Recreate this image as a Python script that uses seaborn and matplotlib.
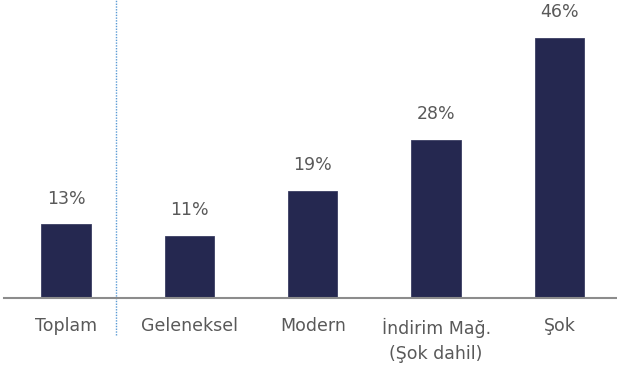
import matplotlib
matplotlib.use("Agg")
import matplotlib.pyplot as plt
import seaborn as sns
import pandas as pd

categories = ["Toplam", "Geleneksel", "Modern", "İndirim Mağ.\n(Şok dahil)", "Şok"]
values = [13, 11, 19, 28, 46]
labels = ["13%", "11%", "19%", "28%", "46%"]

sns.set_theme(style="white")
plt.rcParams['font.family'] = ['DejaVu Sans']

df = pd.DataFrame({"cat": categories, "val": values})

fig = plt.figure(figsize=(6.17, 3.72), dpi=100)
ax = fig.add_axes([0.0069, 74 / 372, 1.0, 298 / 372])
sns.barplot(data=df, x="cat", y="val", color="#252850", width=0.4, ax=ax,
            saturation=1, edgecolor="#3a3d62", linewidth=0.6)

ax.set_xlim(-0.5, 4.5)
ax.set_ylim(0, 52.7)
for i, (v, t) in enumerate(zip(values, labels)):
    ax.annotate(t, (i, v), xytext=(0, 12), textcoords="offset points",
                ha="center", va="bottom", fontsize=12.5, color="#595959")

ax.set_xlabel("")
ax.set_ylabel("")
ax.set_yticks([])
ax.tick_params(axis="x", length=0, pad=14, labelsize=12.5, labelcolor="#595959")
for lab in ax.get_xticklabels():
    lab.set_linespacing(1.55)
    lab.set_va("top")
for s in ["top", "right", "left"]:
    ax.spines[s].set_visible(False)
ax.spines["bottom"].set_color("#8c8c8c")
ax.spines["bottom"].set_linewidth(1.5)

ax.axvline(0.405, ymin=-0.124, ymax=1.0, color="#5b9bd5", linestyle=(0, (1, 1)),
           linewidth=1.0, clip_on=False)

fig.savefig("out.png", dpi=100)
